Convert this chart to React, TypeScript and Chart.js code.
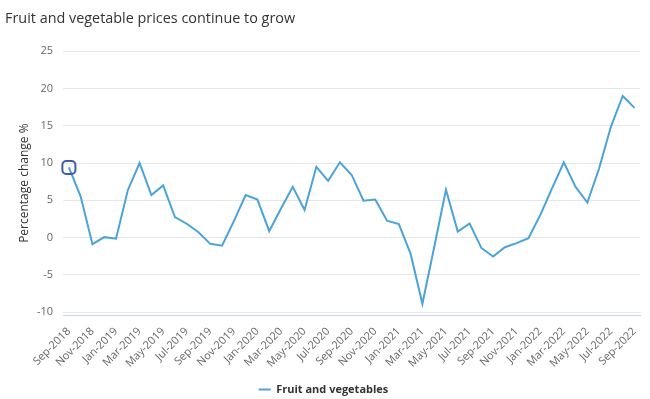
import React, { useEffect, useRef } from "react";
import { Chart, registerables } from "chart.js";

Chart.register(...registerables);

const months: string[] = [
  "Sep-2018", "Oct-2018", "Nov-2018", "Dec-2018",
  "Jan-2019", "Feb-2019", "Mar-2019", "Apr-2019", "May-2019", "Jun-2019",
  "Jul-2019", "Aug-2019", "Sep-2019", "Oct-2019", "Nov-2019", "Dec-2019",
  "Jan-2020", "Feb-2020", "Mar-2020", "Apr-2020", "May-2020", "Jun-2020",
  "Jul-2020", "Aug-2020", "Sep-2020", "Oct-2020", "Nov-2020", "Dec-2020",
  "Jan-2021", "Feb-2021", "Mar-2021", "Apr-2021", "May-2021", "Jun-2021",
  "Jul-2021", "Aug-2021", "Sep-2021", "Oct-2021", "Nov-2021", "Dec-2021",
  "Jan-2022", "Feb-2022", "Mar-2022", "Apr-2022", "May-2022", "Jun-2022",
  "Jul-2022", "Aug-2022", "Sep-2022",
];

const fruitVeg: number[] = [
  9.4, 5.5, -0.9, 0.05,
  -0.15, 6.35, 10.0, 5.7, 7.0, 2.75,
  1.85, 0.7, -0.85, -1.1, 2.2, 5.7,
  5.1, 0.85, 3.9, 6.8, 3.7, 9.5,
  7.6, 10.1, 8.4, 4.95, 5.1, 2.25,
  1.8, -2.2, -8.9, -1.3, 6.4, 0.8,
  1.9, -1.4, -2.55, -1.3, -0.75, -0.1,
  3.0, 6.6, 10.1, 6.8, 4.7, 9.3,
  14.9, 19.0, 17.4,
];

const yTicks: number[] = [-10, -5, 0, 5, 10, 15, 20, 25];

const TITLE = "Fruit and vegetable prices continue to grow";
const SERIES_NAME = "Fruit and vegetables";
const Y_TITLE = "Percentage change %";

export default function App() {
  const ref = useRef<HTMLCanvasElement | null>(null);

  useEffect(() => {
    document.body.style.margin = "0";
    if (!ref.current) return;
    Chart.defaults.font.family = "'Open Sans', sans-serif";
    const lineColor = "#4aa3d9";
    const chart = new Chart(ref.current, {
      type: "line",
      data: {
        labels: months,
        datasets: [
          {
            label: SERIES_NAME,
            data: fruitVeg,
            borderColor: lineColor,
            backgroundColor: lineColor,
            borderWidth: 2,
            tension: 0,
            pointStyle: fruitVeg.map((_, i) => (i === 0 ? "rectRounded" : "circle")) as any,
            pointRadius: fruitVeg.map((_, i) => (i === 0 ? 7.6 : 0)),
            pointHoverRadius: fruitVeg.map((_, i) => (i === 0 ? 7.6 : 0)),
            pointBorderColor: "#3d5ba9",
            pointBackgroundColor: "rgba(0,0,0,0)",
            pointBorderWidth: 2,
          },
        ],
      },
      options: {
        animation: false,
        responsive: true,
        maintainAspectRatio: false,
        events: [],
        layout: { padding: { left: 5, right: 8, top: 0, bottom: -6 } },
        plugins: {
          title: {
            display: true,
            text: TITLE,
            align: "start",
            color: "#333333",
            font: { size: 14.4, weight: "normal" },
            padding: { top: 10, bottom: 24 },
          },
          legend: {
            position: "bottom",
            labels: {
              color: "#333333",
              font: { size: 11, weight: "bold" },
              boxWidth: 12,
              boxHeight: 2,
              padding: 3,
              generateLabels: (c: any) => [
                {
                  text: SERIES_NAME,
                  fillStyle: lineColor,
                  strokeStyle: lineColor,
                  lineWidth: 0,
                  hidden: false,
                  datasetIndex: 0,
                  fontColor: "#333333",
                },
              ],
            },
          },
          tooltip: { enabled: false },
        },
        scales: {
          x: {
            offset: true,
            grid: { display: false },
            border: { display: true, color: "#ccd6eb", width: 1 },
            ticks: {
              autoSkip: false,
              maxRotation: 45,
              minRotation: 45,
              color: "#666666",
              font: { size: 11 },
              padding: 2,
              callback: (_v: any, i: number) => (i % 2 === 0 ? months[i] : null),
            },
            afterFit: (s: any) => {
              s.height = 66;
            },
          },
          y: {
            min: -10.4,
            max: 25,
            grid: { color: "#e6e6e6", lineWidth: 1, drawTicks: false },
            border: { display: false },
            ticks: {
              color: "#666666",
              font: { size: 11 },
              padding: 10,
              includeBounds: false,
              stepSize: 5,
            },
            afterBuildTicks: (s: any) => {
              s.ticks = yTicks.map((v) => ({ value: v }));
            },
            afterFit: (s: any) => {
              s.width = 58;
            },
            title: {
              display: true,
              text: Y_TITLE,
              color: "#333333",
              font: { size: 12 },
              padding: { top: 12, bottom: 8 },
            },
          },
        },
      },
    });
    return () => chart.destroy();
  }, []);

  return (
    <div style={{ width: 650, height: 399, position: "relative" }}>
      <canvas ref={ref} />
    </div>
  );
}
